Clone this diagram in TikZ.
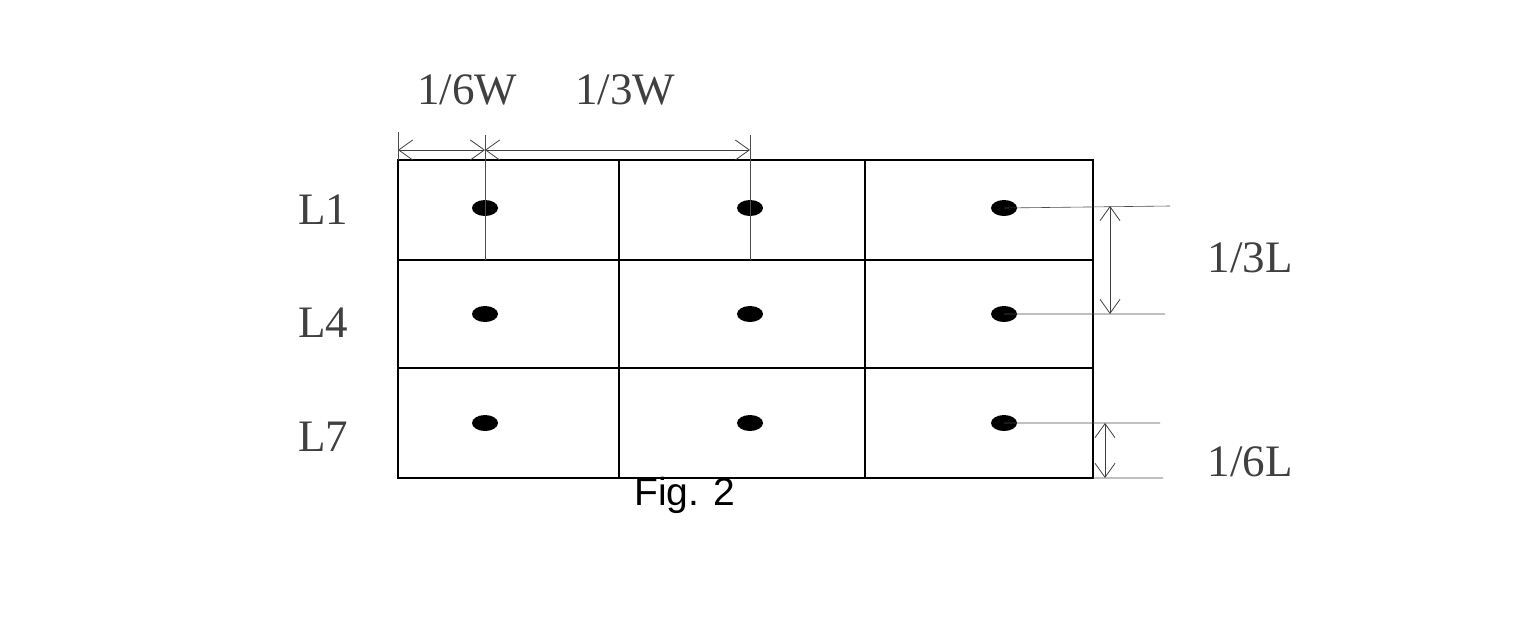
\documentclass[tikz,border=0pt]{standalone}
\usepackage{fontspec}
\setmainfont{Liberation Serif}
\newfontfamily\figfont{Liberation Sans}
\usetikzlibrary{arrows.meta}
\begin{document}
\begin{tikzpicture}[x=1pt,y=-1pt,
  grid/.style={line width=2pt},
  thin/.style={line width=0.6pt,draw=black!70},
  dim/.style={line width=0.8pt,draw=black!75,{Straight Barb[length=14pt,width=20pt]}-{Straight Barb[length=14pt,width=20pt]}},
  lab/.style={font=\fontsize{45}{45}\selectfont,text=black!75,inner sep=0pt}]
\useasboundingbox (0,0) rectangle (1536,640);
\draw[grid] (398,160) rectangle (1093,478);
\draw[grid] (619,160) -- (619,478) (865,160) -- (865,478) (398,260) -- (1093,260) (398,368) -- (1093,368);
\foreach \r/\y in {1/208,2/314,3/423}{
  \foreach \c/\x in {1/485,2/750,3/1004}{
    \fill (\x,\y) ellipse (13pt and 8pt);
    \coordinate (d\r\c) at (\x,\y);
  }}
% top dimensions
\coordinate (tl) at (398,132); \coordinate (tlb) at (398,160);
\coordinate (t1) at (485,135); \coordinate (t1b) at (485,260);
\coordinate (t2) at (750,135); \coordinate (t2b) at (750,260);
\draw[thin] (tl) -- (tlb) (t1) -- (t1b) (t2) -- (t2b);
\coordinate (a0) at (398,150); \coordinate (a1) at (485,150); \coordinate (a2) at (750,150);
\draw[dim] (a0) -- (a1);
\draw[dim] (a1) -- (a2);
% right dimensions
\coordinate (r1) at (1170,206); \coordinate (r2) at (1165,314); \coordinate (r3) at (1160,423); \coordinate (r4) at (1163,478);
\draw[thin] (d13) -- (r1) (d23) -- (r2) (d33) -- (r3) (1093,478) -- (r4);
\coordinate (v1) at (1110,206); \coordinate (v2) at (1110,314);
\coordinate (v3) at (1105,423); \coordinate (v4) at (1105,478);
\draw[dim] (v1) -- (v2);
\draw[dim] (v3) -- (v4);
\node[lab] (w6) at (467,90) {1/6W};
\node[lab] (w3) at (625,90) {1/3W};
\node[lab] (l1) at (323,210) {L1};
\node[lab] (l4) at (323,323) {L4};
\node[lab] (l7) at (323,437) {L7};
\node[lab] (l3) at (1250,258) {1/3L};
\node[lab] (l6) at (1250,462) {1/6L};
\node[font=\figfont\fontsize{39}{39}\selectfont,inner sep=0pt] (fig) at (685,495) {Fig. 2};
\end{tikzpicture}
\end{document}
